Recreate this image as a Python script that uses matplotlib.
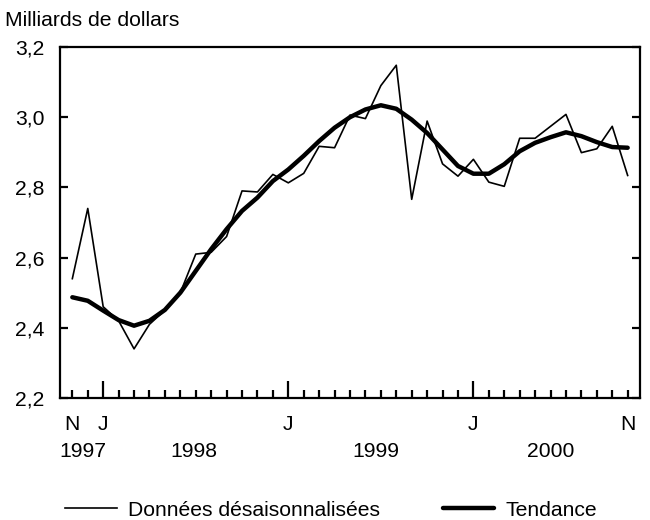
import matplotlib
matplotlib.use('Agg')
import matplotlib.pyplot as plt
import numpy as np

plt.rcParams['font.family'] = ['Liberation Sans', 'DejaVu Sans']

# Monthly values, Nov 1997 to Nov 2000
raw = [2.54, 2.74, 2.46, 2.42, 2.34, 2.41, 2.45, 2.50, 2.61, 2.615, 2.66, 2.79, 2.787,
       2.837, 2.813, 2.84, 2.917, 2.913, 3.006, 2.996, 3.09, 3.148, 2.766, 2.989,
       2.867, 2.832, 2.88, 2.815, 2.803, 2.94, 2.94, 2.974, 3.008, 2.899, 2.91, 2.974, 2.834]
trend = [2.487, 2.477, 2.449, 2.422, 2.406, 2.42, 2.451, 2.50, 2.562, 2.624, 2.681, 2.733, 2.771,
         2.818, 2.851, 2.89, 2.932, 2.97, 3.0, 3.022, 3.034, 3.024, 2.993, 2.955,
         2.908, 2.861, 2.839, 2.839, 2.866, 2.903, 2.927, 2.943, 2.957, 2.946, 2.929, 2.915, 2.913]
month_ticks = [0, 2, 14, 26, 36]
month_labels = ['N', 'J', 'J', 'J', 'N']
years = ['1997', '1998', '1999', '2000']
year_pos = [0.7, 7.86, 19.7, 31.0]
yticks = [2.2, 2.4, 2.6, 2.8, 3.0, 3.2]

fs = 15.2
x = np.arange(len(raw))

fig = plt.figure(figsize=(6.5, 5.2), dpi=100)
ax = fig.add_axes([60/650, 1 - 398/520, 580/650, 351/520])

ax.plot(x, raw, color='black', lw=1.2, label='Données désaisonnalisées')
ax.plot(x, trend, color='black', lw=3.2, label='Tendance', solid_capstyle='round')

ax.set_xlim(-0.8, 36.8)
ax.set_ylim(2.2, 3.2)

for s in ax.spines.values():
    s.set_linewidth(1.6)

ax.set_yticks(yticks)
ax.set_yticklabels([f'{v:.1f}'.replace('.', ',') for v in yticks], fontsize=fs)
ax.tick_params(axis='y', direction='in', length=6, width=1.6, left=True, right=True, pad=11)

ax.set_xticks(x, minor=True)
ax.set_xticks(month_ticks)
ax.set_xticklabels(month_labels, fontsize=fs)
ax.tick_params(axis='x', which='major', direction='in', length=12, width=1.6, pad=12)
ax.tick_params(axis='x', which='minor', direction='in', length=6, width=1.6)
for t, m in zip(ax.xaxis.get_major_ticks(), month_ticks):
    if m in (0, 36):
        t.tick1line.set_markersize(6)

for yr, p in zip(years, year_pos):
    ax.text(p, -0.151, yr, transform=ax.get_xaxis_transform(), ha='center', va='center', fontsize=fs)

fig.text(5/650, 1 - 20/520, 'Milliards de dollars', ha='left', va='center', fontsize=fs)

fig.legend(loc='center left', bbox_to_anchor=(65/650, 1 - 510/520), ncol=2, frameon=False,
           fontsize=fs, handlelength=2.45, handletextpad=0.55, columnspacing=2.95,
           borderpad=0, borderaxespad=0)

plt.savefig('out.png', dpi=100)
